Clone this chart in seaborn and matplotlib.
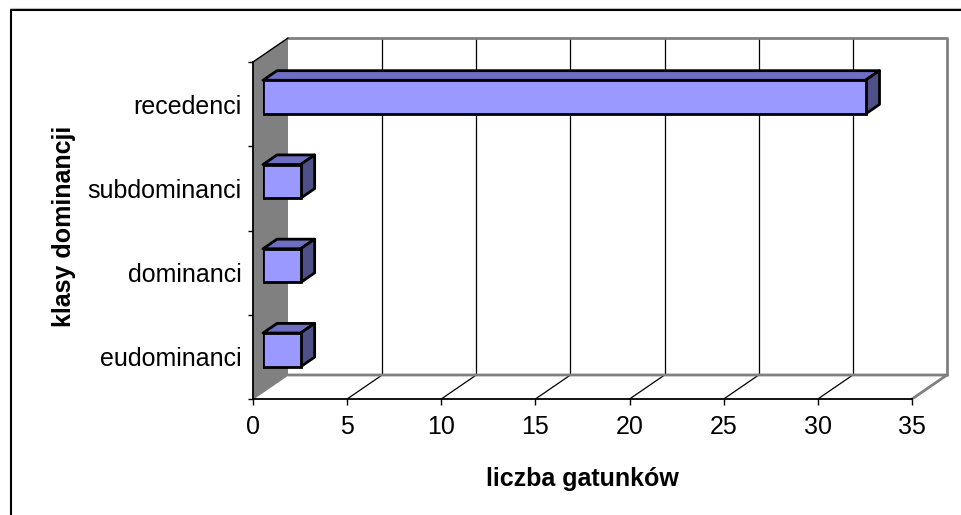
import numpy as np
import pandas as pd
import matplotlib
matplotlib.use("Agg")
import matplotlib.pyplot as plt
from matplotlib.patches import Polygon
from matplotlib.lines import Line2D
import seaborn as sns

# Species count per dominance class
categories = ["recedenci", "subdominanci", "dominanci", "eudominanci"]
counts = [32, 2, 2, 2]
x_ticks = [0, 5, 10, 15, 20, 25, 30, 35]
x_title = "liczba gatunków"
y_title = "klasy dominancji"

sns.set_style("white")
plt.rcParams["font.family"] = ["Liberation Sans", "DejaVu Sans"]
plt.rcParams["text.color"] = "black"
plt.rcParams["axes.labelcolor"] = "black"
plt.rcParams["xtick.color"] = "black"
plt.rcParams["ytick.color"] = "black"

W, H, DPI = 961, 515, 100
fig = plt.figure(figsize=(W / DPI, H / DPI), dpi=DPI)

# front plane of the 3-D box (pixels from top-left)
L, R, T, B = 253, 912, 62, 399
ax = fig.add_axes([L / W, (H - B) / H, (R - L) / W, (B - T) / H])
xmax = x_ticks[-1]
n = len(categories)
ax.set_xlim(0, xmax)
ax.set_ylim(n - 0.5, -0.5)

px_x = (R - L) / xmax          # pixels per unit value
px_y = (B - T) / n             # pixels per category
Dx, Dy = 35 / px_x, -24 / px_y  # full depth of the box in data units

# back wall
back = Polygon([(Dx, -0.5 + Dy), (xmax + Dx, -0.5 + Dy),
                (xmax + Dx, n - 0.5 + Dy), (Dx, n - 0.5 + Dy)],
               closed=True, facecolor="white", edgecolor="none",
               clip_on=False, zorder=0.5)
ax.add_patch(back)
for v in x_ticks[1:-1]:
    ax.add_line(Line2D([v + Dx, v + Dx], [-0.5 + Dy, n - 0.5 + Dy],
                       color="black", lw=0.9, clip_on=False, zorder=0.6))
# back wall border
ax.add_line(Line2D([Dx, xmax + Dx, xmax + Dx], [-0.5 + Dy, -0.5 + Dy, n - 0.5 + Dy],
                   color="#808080", lw=2.0, clip_on=False, zorder=0.7))

# side wall (left)
side = Polygon([(0, -0.5), (Dx, -0.5 + Dy), (Dx, n - 0.5 + Dy), (0, n - 0.5)],
               closed=True, facecolor="#808080", edgecolor="none",
               clip_on=False, zorder=0.8)
ax.add_patch(side)
ax.add_line(Line2D([0, Dx], [-0.5, -0.5 + Dy],
                   color="black", lw=1.0, clip_on=False, zorder=0.85))

# floor
floor = Polygon([(0, n - 0.5), (xmax, n - 0.5), (xmax + Dx, n - 0.5 + Dy),
                 (Dx, n - 0.5 + Dy)], closed=True, facecolor="white",
                edgecolor="none", clip_on=False, zorder=0.9)
ax.add_patch(floor)
for v in x_ticks[1:-1]:
    ax.add_line(Line2D([v, v + Dx], [n - 0.5, n - 0.5 + Dy],
                       color="black", lw=0.9, clip_on=False, zorder=1.0))
ax.add_line(Line2D([Dx, xmax + Dx, xmax], [n - 0.5 + Dy, n - 0.5 + Dy, n - 0.5],
                   color="#808080", lw=2.0, clip_on=False, zorder=1.0))
ax.add_line(Line2D([0, Dx], [n - 0.5, n - 0.5 + Dy],
                   color="#808080", lw=1.0, clip_on=False, zorder=1.0))

ax.patch.set_visible(False)
for s in ["top", "right"]:
    ax.spines[s].set_visible(False)
for s in ["left", "bottom"]:
    ax.spines[s].set_color("black")
    ax.spines[s].set_linewidth(1.3)
    ax.spines[s].set_zorder(3)

ax.set_xticks(x_ticks)
ax.set_xticklabels([str(v) for v in x_ticks])
ax.set_yticks(range(n))
ax.set_yticklabels(categories)
ax.set_yticks(np.arange(-0.5, n, 1.0), minor=True)
ax.tick_params(axis="x", which="major", direction="out", length=4.3, width=1.0,
               color="black", labelcolor="black", pad=7, labelsize=18, bottom=True)
ax.tick_params(axis="y", which="major", length=0, pad=8, labelsize=18,
               labelcolor="black", left=True)
ax.tick_params(axis="y", which="minor", direction="out", length=3.6, width=1.0,
               color="black", left=True)

ax.set_xlabel(x_title, fontsize=18, fontweight="bold", va="center", color="black")
ax.xaxis.set_label_coords(0.5, -0.237)
ax.set_ylabel(y_title, fontsize=18, fontweight="bold", va="center", ha="center",
              color="black")
ax.yaxis.set_label_coords(-0.287, 0.513)

# bar plane, sitting part way into the box depth
axb = fig.add_axes([(L + 10) / W, (H - B + 7) / H, (R - L) / W, (B - T) / H])
df = pd.DataFrame({"klasa": categories, "liczba": counts})
sns.barplot(data=df, x="liczba", y="klasa", orient="h", order=categories,
            width=0.4, color="#9999FF", saturation=1, edgecolor="black",
            linewidth=2.0, ax=axb, zorder=3)
axb.set_xlim(0, xmax)
axb.set_ylim(n - 0.5, -0.5)
axb.axis("off")
axb.patch.set_visible(False)

bdx, bdy = 0.4 * Dx, 0.4 * Dy
for p in list(axb.patches):
    x0, y0 = p.get_x(), p.get_y()
    x1, y1 = x0 + p.get_width(), y0 + p.get_height()
    top = Polygon([(x0, y0), (x1, y0), (x1 + bdx, y0 + bdy), (x0 + bdx, y0 + bdy)],
                  closed=True, facecolor="#6E6EC2", edgecolor="black",
                  lw=2.0, joinstyle="round", clip_on=False, zorder=2.9)
    side_f = Polygon([(x1, y0), (x1 + bdx, y0 + bdy), (x1 + bdx, y1 + bdy), (x1, y1)],
                     closed=True, facecolor="#505088", edgecolor="black",
                     lw=2.0, joinstyle="round", clip_on=False, zorder=2.9)
    axb.add_patch(top)
    axb.add_patch(side_f)

# chart area frame
fig.add_artist(Line2D([10 / W, 1.0], [1 - 7.5 / H, 1 - 7.5 / H],
                      transform=fig.transFigure, color="#C8C8C8", lw=0.8))
fig.add_artist(Line2D([10.5 / W, 10.5 / W, 1.0], [0.0, 1 - 9.5 / H, 1 - 9.5 / H],
                      transform=fig.transFigure, color="black", lw=1.5))

fig.savefig("out.png", dpi=DPI, facecolor="white")
